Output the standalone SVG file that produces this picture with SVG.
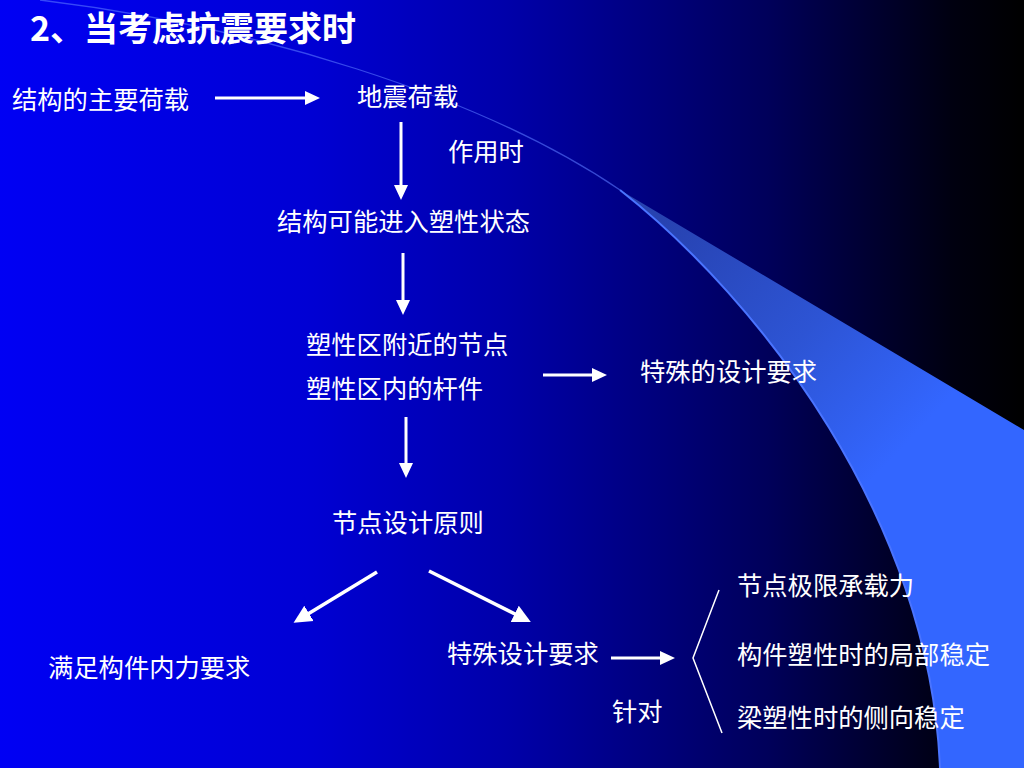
<svg xmlns="http://www.w3.org/2000/svg" width="1024" height="768" viewBox="0 0 1024 768">
<defs>
<linearGradient id="bg" x1="0" y1="0" x2="1024" y2="0" gradientUnits="userSpaceOnUse">
<stop offset="0" stop-color="#0000F4"/>
<stop offset="0.3" stop-color="#0000D4"/>
<stop offset="0.5" stop-color="#0000A8"/>
<stop offset="0.75" stop-color="#00005A"/>
<stop offset="0.93" stop-color="#000010"/>
<stop offset="1" stop-color="#000000"/>
</linearGradient>
<linearGradient id="swoosh" x1="660" y1="220" x2="900" y2="450" gradientUnits="userSpaceOnUse">
<stop offset="0" stop-color="#2742B0"/>
<stop offset="0.55" stop-color="#2D54D4"/>
<stop offset="1" stop-color="#3366FF"/>
</linearGradient>
<marker id="ah" markerUnits="userSpaceOnUse" markerWidth="16" markerHeight="16" viewBox="0 0 16 16" refX="5" refY="8" orient="auto">
<path d="M0,1 L15,8 L0,15 Z" fill="#FFFFFF"/>
</marker>
<marker id="ahb" markerUnits="userSpaceOnUse" markerWidth="20" markerHeight="20" viewBox="0 0 20 20" refX="7" refY="10" orient="auto">
<path d="M0,1 L18,10 L0,19 Z" fill="#FFFFFF"/>
</marker>
</defs>
<style>
.t{font-family:"Noto Sans CJK SC","Noto Sans",sans-serif;font-size:25.3px;fill:#FFFFFF;}
.title{font-family:"Noto Sans CJK SC","Noto Sans",sans-serif;font-size:34px;font-weight:bold;fill:#FFFFFF;}
.arr{stroke:#FFFFFF;stroke-width:3;fill:none;marker-end:url(#ah);}
.arrb{stroke:#FFFFFF;stroke-width:3.5;fill:none;marker-end:url(#ahb);}
</style>
<rect x="0" y="0" width="1024" height="768" fill="url(#bg)"/>
<g id="background-swoosh">
<path d="M40,0 C250,25 480,95 620,190" fill="none" stroke="#5A78FF" stroke-width="1.3" stroke-opacity="0.6"/>
<path d="M620,190 C760,300 930,520 940,768 L1024,768 L1024,430 Z" fill="url(#swoosh)"/>
<path d="M620,190 C760,300 930,520 940,768" fill="none" stroke="#4A74FF" stroke-width="2"/>
</g>
<g id="title"><text class="title" x="30" y="41">2、当考虑抗震要求时</text></g>
<g id="n-main-load"><text class="t" x="12" y="109">结构的主要荷载</text></g>
<g id="n-seismic"><text class="t" x="357" y="106">地震荷载</text></g>
<g id="n-when"><text class="t" x="448" y="161">作用时</text></g>
<g id="n-plastic-state"><text class="t" x="277" y="231">结构可能进入塑性状态</text></g>
<g id="n-plastic-zone">
<text class="t" x="306" y="354">塑性区附近的节点</text>
<text class="t" x="306" y="398">塑性区内的杆件</text>
</g>
<g id="n-special-req"><text class="t" x="640" y="381">特殊的设计要求</text></g>
<g id="n-principle"><text class="t" x="332" y="532">节点设计原则</text></g>
<g id="n-internal-force"><text class="t" x="48" y="677">满足构件内力要求</text></g>
<g id="n-special-design"><text class="t" x="447" y="663">特殊设计要求</text></g>
<g id="n-target"><text class="t" x="612" y="721">针对</text></g>
<g id="n-items">
<text class="t" x="737" y="595">节点极限承载力</text>
<text class="t" x="737" y="664">构件塑性时的局部稳定</text>
<text class="t" x="737" y="727">梁塑性时的侧向稳定</text>
</g>
<g id="connectors">
<line class="arr" x1="215" y1="98" x2="310" y2="98"/>
<line class="arr" x1="401" y1="122" x2="401" y2="190"/>
<line class="arr" x1="403" y1="253" x2="403" y2="305"/>
<line class="arr" x1="543" y1="375" x2="597" y2="375"/>
<line class="arr" x1="406" y1="417" x2="406" y2="468"/>
<line class="arrb" x1="377" y1="572" x2="303" y2="617"/>
<line class="arrb" x1="429" y1="571" x2="521" y2="617"/>
<line class="arr" x1="611" y1="658" x2="665" y2="658"/>
<polyline points="719,590 693,658 722,733" fill="none" stroke="#FFFFFF" stroke-width="1.5"/>
</g>
</svg>
